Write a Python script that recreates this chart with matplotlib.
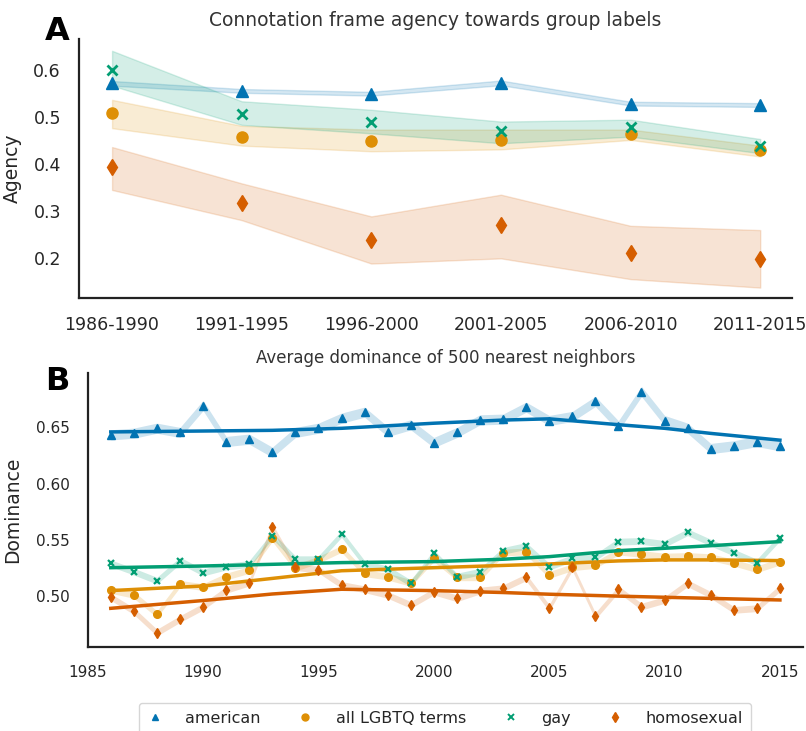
import matplotlib
matplotlib.use("Agg")
import matplotlib.pyplot as plt
import numpy as np

# ---- panel A data: connotation frame agency, by 5-year period ----
periods = ["1986-1990", "1991-1995", "1996-2000", "2001-2005", "2006-2010", "2011-2015"]

agency_american = [0.571, 0.555, 0.549, 0.572, 0.528, 0.525]
agency_american_lo = [0.566, 0.551, 0.545, 0.567, 0.524, 0.521]
agency_american_hi = [0.576, 0.559, 0.553, 0.577, 0.532, 0.529]

agency_lgbtq = [0.508, 0.458, 0.448, 0.451, 0.464, 0.429]
agency_lgbtq_lo = [0.476, 0.439, 0.427, 0.431, 0.451, 0.416]
agency_lgbtq_hi = [0.536, 0.481, 0.473, 0.473, 0.473, 0.439]

agency_gay = [0.600, 0.506, 0.489, 0.469, 0.478, 0.439]
agency_gay_lo = [0.566, 0.483, 0.465, 0.444, 0.458, 0.423]
agency_gay_hi = [0.640, 0.533, 0.515, 0.490, 0.494, 0.453]

agency_homosexual = [0.393, 0.318, 0.239, 0.271, 0.212, 0.199]
agency_homosexual_lo = [0.345, 0.281, 0.189, 0.200, 0.156, 0.138]
agency_homosexual_hi = [0.436, 0.359, 0.289, 0.335, 0.269, 0.260]

# ---- panel B data: average dominance of 500 nearest neighbours, per year ----
years = list(range(1986, 2016))

dom_american = [0.6432, 0.6447, 0.6491, 0.6453, 0.6692, 0.6373, 0.6394, 0.6278, 0.6453, 0.6491,
                0.6580, 0.6633, 0.6461, 0.6521, 0.6364, 0.6453, 0.6565, 0.6571, 0.6677, 0.6559,
                0.6595, 0.6728, 0.6512, 0.6816, 0.6559, 0.6491, 0.6311, 0.6335, 0.6373, 0.6335]
dom_lgbtq = [0.5058, 0.5014, 0.4843, 0.5112, 0.5083, 0.5176, 0.5235, 0.5517, 0.5255, 0.5325,
             0.5421, 0.5206, 0.5176, 0.5120, 0.5339, 0.5170, 0.5170, 0.5389, 0.5398, 0.5191,
             0.5259, 0.5279, 0.5398, 0.5377, 0.5353, 0.5359, 0.5348, 0.5300, 0.5241, 0.5309]
dom_gay = [0.5294, 0.5220, 0.5140, 0.5318, 0.5212, 0.5265, 0.5288, 0.5540, 0.5330, 0.5330,
           0.5554, 0.5288, 0.5241, 0.5117, 0.5383, 0.5176, 0.5220, 0.5404, 0.5448, 0.5265,
           0.5339, 0.5348, 0.5486, 0.5492, 0.5466, 0.5569, 0.5477, 0.5389, 0.5300, 0.5522]
dom_homosexual = [0.4995, 0.4870, 0.4680, 0.4800, 0.4910, 0.5058, 0.5123, 0.5615, 0.5260, 0.5238,
                  0.5102, 0.5064, 0.5014, 0.4925, 0.5043, 0.4984, 0.5052, 0.5073, 0.5170, 0.4899,
                  0.5259, 0.4827, 0.5064, 0.4910, 0.4969, 0.5117, 0.5014, 0.4881, 0.4896, 0.5073]

dom_err_american = 0.0045
dom_err_lgbtq = 0.003
dom_err_gay = 0.003
dom_err_homosexual = 0.003

# smoothed trend lines read at a few years
trend_years = [1986, 1990, 1993, 1996, 2000, 2003, 2005, 2008, 2010, 2012, 2015]
trend_american = [0.6458, 0.6466, 0.6472, 0.6490, 0.6535, 0.6563, 0.6574, 0.6522, 0.6490, 0.6445, 0.6385]
trend_lgbtq = [0.5052, 0.5093, 0.5160, 0.5228, 0.5255, 0.5275, 0.5288, 0.5315, 0.5324, 0.5324, 0.5318]
trend_gay = [0.5255, 0.5270, 0.5285, 0.5300, 0.5309, 0.5330, 0.5353, 0.5406, 0.5427, 0.5450, 0.5486]
trend_homosexual = [0.4895, 0.4964, 0.5022, 0.5064, 0.5052, 0.5035, 0.5020, 0.5003, 0.4993, 0.4983, 0.4969]

labels = ["american", "all LGBTQ terms", "gay", "homosexual"]
colors = ["#0173b2", "#de8f05", "#029e73", "#d55e00"]
markers = ["^", "o", "x", "d"]

TEXT = "#262626"
plt.rcParams["font.family"] = ["DejaVu Sans"]
plt.rcParams["text.color"] = TEXT
plt.rcParams["axes.labelcolor"] = TEXT
plt.rcParams["xtick.color"] = TEXT
plt.rcParams["ytick.color"] = TEXT

W, H = 806, 731
fig = plt.figure(figsize=(W / 100, H / 100), dpi=100)


def box(l, t, r, b):
    return [l / W, 1 - b / H, (r - l) / W, (b - t) / H]


def style(ax):
    for s in ["top", "right"]:
        ax.spines[s].set_visible(False)
    for s in ["left", "bottom"]:
        ax.spines[s].set_linewidth(1.6)
        ax.spines[s].set_color("#222222")


## panel A
ax_a = fig.add_axes(box(79, 39, 792, 298))
style(ax_a)
xa = np.arange(len(periods))
series_a = [
    (agency_american, agency_american_lo, agency_american_hi),
    (agency_lgbtq, agency_lgbtq_lo, agency_lgbtq_hi),
    (agency_gay, agency_gay_lo, agency_gay_hi),
    (agency_homosexual, agency_homosexual_lo, agency_homosexual_hi),
]
for (mean, lo, hi), c, m in zip(series_a, colors, markers):
    ax_a.fill_between(xa, lo, hi, color=c, alpha=0.17, linewidth=1.0)
    if m == "x":
        ax_a.plot(xa, mean, ls="none", marker=m, ms=7, mew=2, color=c)
    else:
        ax_a.plot(xa, mean, ls="none", marker=m, ms=8, color=c)

ax_a.set_xlim(-0.255, 5.245)
ax_a.set_ylim(0.116, 0.665)
ax_a.set_xticks(xa)
ax_a.set_xticklabels(periods)
ax_a.set_yticks([0.2, 0.3, 0.4, 0.5, 0.6])
ax_a.set_yticklabels(["0.2", "0.3", "0.4", "0.5", "0.6"])
ax_a.tick_params(length=0, labelsize=12.5, pad=13)
ax_a.set_ylabel("Agency", fontsize=13.5, labelpad=8)
ax_a.set_title("Connotation frame agency towards group labels", fontsize=13.5, color="#333333", pad=9)

## panel B
ax_b = fig.add_axes(box(87.7, 373, 803, 646.7))
style(ax_b)
series_b = [
    (dom_american, dom_err_american, trend_american),
    (dom_lgbtq, dom_err_lgbtq, trend_lgbtq),
    (dom_gay, dom_err_gay, trend_gay),
    (dom_homosexual, dom_err_homosexual, trend_homosexual),
]
for (vals, err, trend), c, m in zip(series_b, colors, markers):
    v = np.array(vals)
    ax_b.fill_between(years, v - err, v + err, color=c, alpha=0.2, linewidth=0)
    ax_b.plot(trend_years, trend, color=c, lw=2.5)
    if m == "x":
        ax_b.plot(years, vals, ls="none", marker=m, ms=5, mew=1.6, color=c)
    else:
        ax_b.plot(years, vals, ls="none", marker=m, ms=5.5, color=c)

ax_b.set_xlim(1985, 2016)
ax_b.set_ylim(0.4555, 0.698)
ax_b.set_xticks([1985, 1990, 1995, 2000, 2005, 2010, 2015])
ax_b.set_yticks([0.50, 0.55, 0.60, 0.65])
ax_b.set_yticklabels(["0.50", "0.55", "0.60", "0.65"])
ax_b.tick_params(length=0, labelsize=11, pad=13)
ax_b.set_ylabel("Dominance", fontsize=13.5, labelpad=10)
ax_b.set_title("Average dominance of 500 nearest neighbors", fontsize=12, color="#333333", pad=7)

# legend at the lower figure edge
handles = []
for lab, c, m in zip(labels, colors, markers):
    if m == "x":
        h, = ax_b.plot([], [], ls="none", marker=m, ms=4.5, mew=1.4, color=c, label=lab)
    else:
        h, = ax_b.plot([], [], ls="none", marker=m, ms=5, color=c, label=lab)
    handles.append(h)
leg = fig.legend(handles=handles, loc="upper center", bbox_to_anchor=(445 / W, 1 - 703 / H),
                 ncol=4, fontsize=11.5, frameon=True, handlelength=1.0, handletextpad=1.4,
                 columnspacing=2.3, borderpad=0.5, borderaxespad=0)
leg.get_frame().set_edgecolor("#cccccc")

fig.text(45 / W, 1 - 39.5 / H, "A", fontsize=23, fontweight="bold", color="black")
fig.text(45 / W, 1 - 390 / H, "B", fontsize=23, fontweight="bold", color="black")

fig.savefig("out.png", dpi=100)
